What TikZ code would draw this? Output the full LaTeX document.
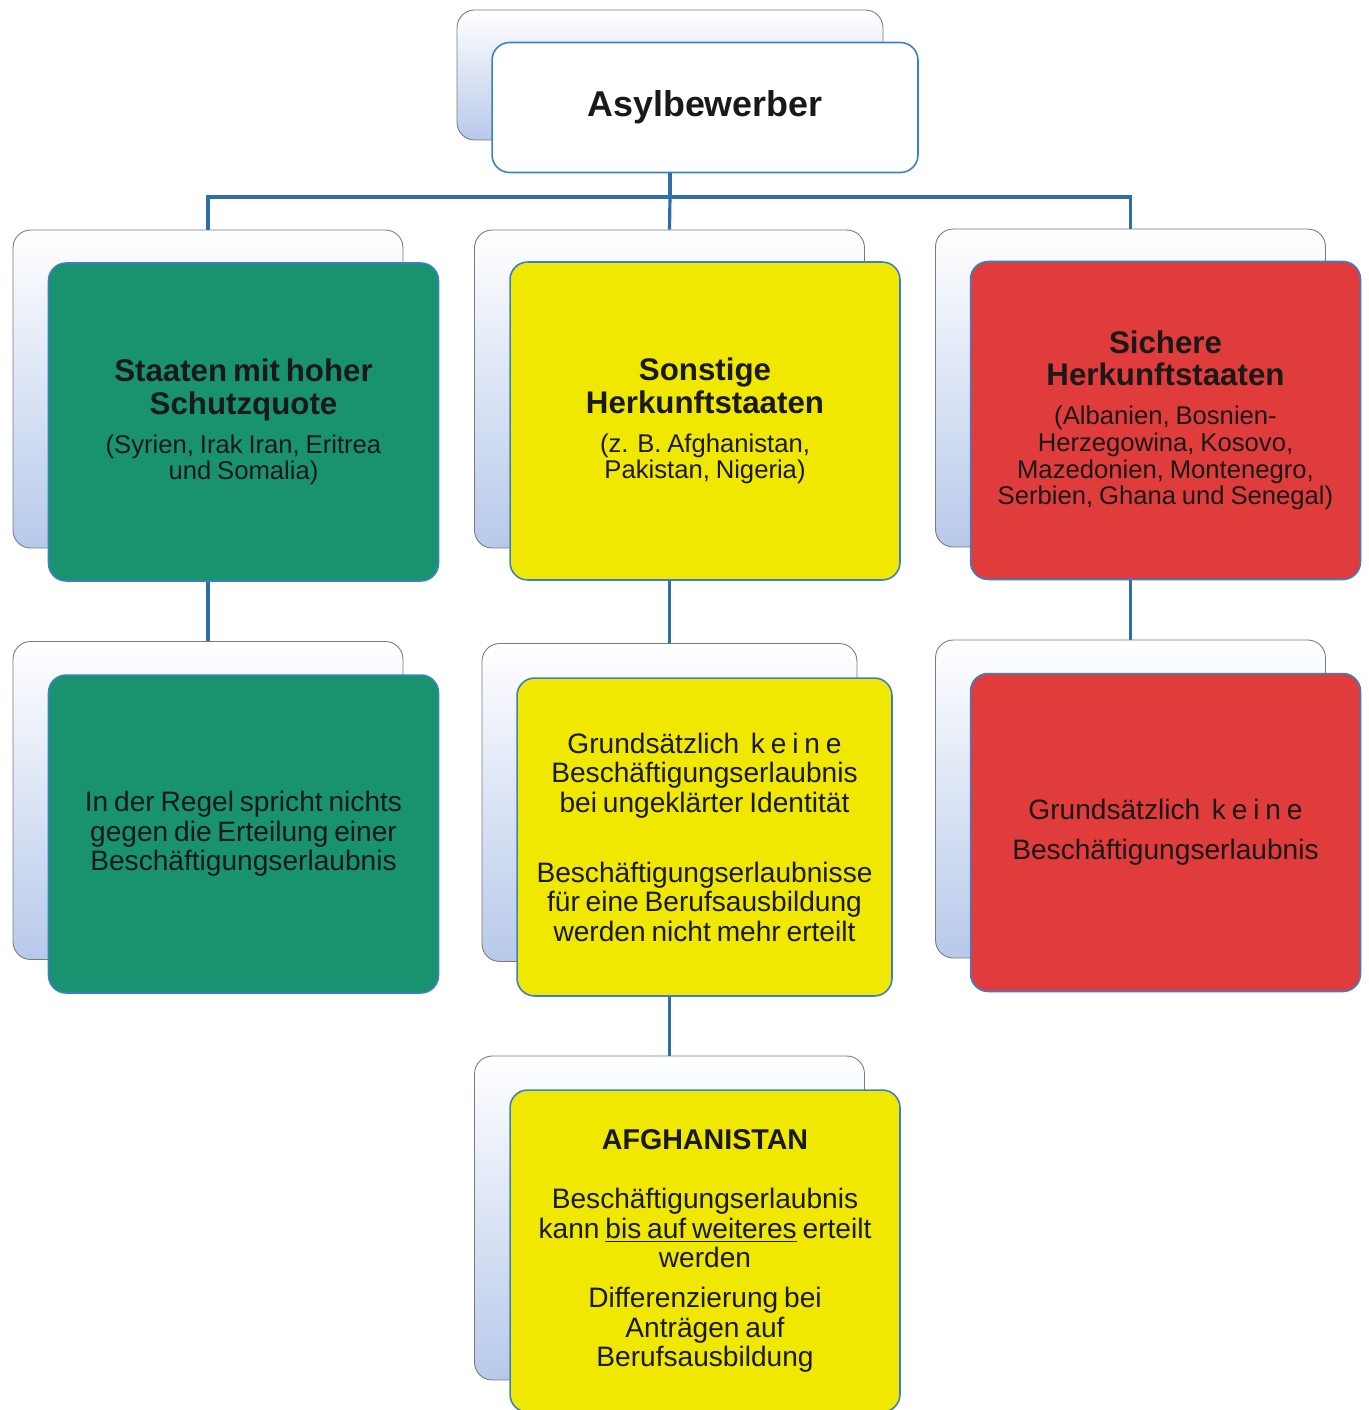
\documentclass[tikz,border=0pt]{standalone}
\usepackage{fontspec}
\setmainfont{Liberation Sans}
\usepackage{tikz}
\usetikzlibrary{calc}

\definecolor{boxblue}{HTML}{3B80C6}
\definecolor{linkblue}{HTML}{2F6EA6}
\definecolor{schutzgreen}{HTML}{19936F}
\definecolor{sonstyellow}{HTML}{F0E800}
\definecolor{sicherred}{HTML}{E03C3C}
\definecolor{shadeblue}{HTML}{B7C9EA}
\definecolor{rimgray}{HTML}{7A7A7A}

\newcommand{\headfont}{\bfseries\fontsize{17.8}{18.5}\selectfont}
\newcommand{\parenfont}{\fontsize{14.6}{15.2}\selectfont}
\newcommand{\bodyfont}{\fontsize{16}{16.8}\selectfont}

\begin{document}
\begin{tikzpicture}[x=0.02cm, y=-0.02cm,
    backbox/.style={draw=rimgray, line width=0.5pt, rounded corners=10pt,
        top color=white, bottom color=shadeblue, minimum width=7.8cm, minimum height=6.36cm},
    frontbox/.style={draw=boxblue, line width=0.9pt, rounded corners=10pt, inner sep=2pt,
        minimum width=7.8cm, minimum height=6.36cm, text width=7.3cm, align=center, text=black!90},
    link/.style={draw=linkblue, line width=1.8pt}]
    \useasboundingbox (0,0) rectangle (1369,1410);

    % back cards
    \node[backbox, minimum width=8.52cm, minimum height=2.6cm] (topback) at (670,75) {};
    \node[backbox] (schutzb) at (208,389) {};
    \node[backbox] (sonstb) at (669.5,389) {};
    \node[backbox] (sicherb) at (1130.5,388) {};
    \node[backbox] (erlaubtb) at (208,800.5) {};
    \node[backbox, minimum width=7.5cm] (identb) at (669.5,802.5) {};
    \node[backbox] (keineb) at (1130.5,799) {};
    \node[backbox, minimum height=6.48cm] (afghb) at (669.5,1218) {};

    % front cards
    \node[frontbox, fill=white, minimum width=8.52cm, minimum height=2.6cm] (top) at (705,107.5)
        {\bfseries\fontsize{20.4}{24}\selectfont Asylbewerber};
    \node[frontbox, fill=schutzgreen] (schutz) at (243.5,422)
        {{\headfont Staaten mit hoher\\Schutzquote\par}\vspace{7pt}%
         {\parenfont (Syrien, Irak Iran, Eritrea\\und Somalia)\par}};
    \node[frontbox, fill=sonstyellow] (sonst) at (705,421)
        {{\headfont Sonstige\\Herkunftstaaten\par}\vspace{7pt}%
         {\parenfont (z. B. Afghanistan,\\Pakistan, Nigeria)\par}};
    \node[frontbox, fill=sicherred] (sicher) at (1165.5,420.5)
        {{\headfont Sichere\\Herkunftstaaten\par}\vspace{7pt}%
         {\parenfont (Albanien, Bosnien-\\Herzegowina, Kosovo,\\Mazedonien, Montenegro,\\Serbien, Ghana und Senegal)\par}};
    \node[frontbox, fill=schutzgreen] (erlaubt) at (243.5,834)
        {{\bodyfont In der Regel spricht nichts\\gegen die Erteilung einer\\Beschäftigungserlaubnis\par}};
    \node[frontbox, fill=sonstyellow, minimum width=7.5cm] (ident) at (704.5,837)
        {{\bodyfont Grundsätzlich\ \ k e i n e\\Beschäftigungserlaubnis\\bei ungeklärter Identität\par}\vspace{23pt}%
         {\bodyfont Beschäftigungserlaubnisse\\für eine Berufsausbildung\\werden nicht mehr erteilt\par}};
    \node[frontbox, fill=sicherred] (keine) at (1165.5,832.5)
        {{\fontsize{16}{22.8}\selectfont Grundsätzlich\ \ k e i n e\\Beschäftigungserlaubnis\par}};
    \node[frontbox, fill=sonstyellow, minimum height=6.44cm] (afgh) at (705,1251)
        {{\bfseries\fontsize{16.3}{18}\selectfont AFGHANISTAN\par}\vspace{17pt}%
         {\bodyfont Beschäftigungserlaubnis\\kann \underline{bis auf weiteres} erteilt\\werden\par}\vspace{6pt}%
         {\bodyfont Differenzierung bei\\Anträgen auf\\Berufsausbildung\par}};

    % connectors
    \coordinate (hub) at (670,197);
    \draw[link] (topback |- top.south) -- (hub);
    \draw[link] (schutzb.north) |- (hub) -| (sicherb.north);
    \draw[link] (hub) -- (sonstb.north);
    \draw[link] (schutzb |- schutz.south) -- (erlaubtb.north);
    \draw[link] (sonstb |- sonst.south) -- (identb.north);
    \draw[link] (sicherb |- sicher.south) -- (keineb.north);
    \draw[link] (identb |- ident.south) -- (afghb.north);
\end{tikzpicture}
\end{document}
